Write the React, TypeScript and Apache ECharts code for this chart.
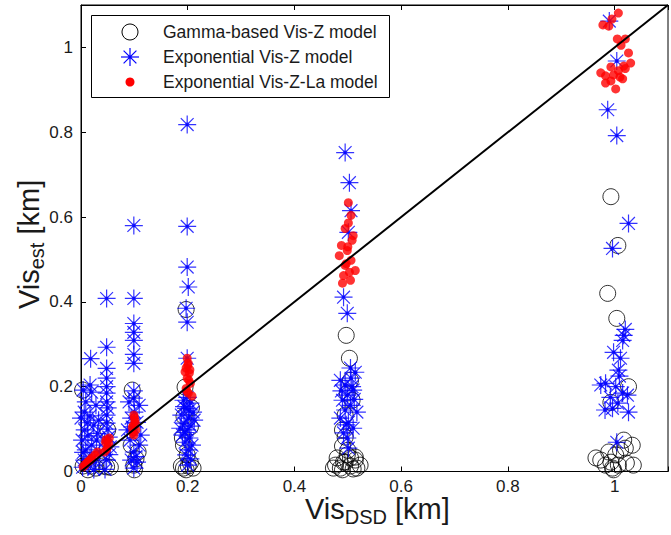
import React, { useEffect, useRef } from "react";
import * as echarts from "echarts";

// ---------- data (Vis_DSD [km], Vis_est [km]) ----------
const xTicks = [0, 0.2, 0.4, 0.6, 0.8, 1];
const yTicks = [0, 0.2, 0.4, 0.6, 0.8, 1];
const axisMax = 1.1;

const legendNames = [
  "Gamma-based Vis-Z model",
  "Exponential Vis-Z model",
  "Exponential Vis-Z-La model",
];

const gammaPoints: [number, number][] = [
  [0.004, 0.013], [0.02, 0.013], [0.013, 0.004], [0.028, 0.008], [0.003, 0.192],
  [0.048, 0.011], [0.042, 0.013], [0.055, 0.01], [0.05, 0.098],
  [0.096, 0.192], [0.099, 0.015], [0.094, 0.062], [0.107, 0.046], [0.1, 0.004], [0.103, 0.03],
  [0.197, 0.382], [0.195, 0.199], [0.205, 0.105], [0.19, 0.079], [0.199, 0.039], [0.192, 0.062],
  [0.192, 0.008], [0.201, 0.013], [0.21, 0.008], [0.197, 0.004], [0.205, 0.02], [0.188, 0.013],
  [0.207, 0.15], [0.193, 0.13],
  [0.497, 0.321], [0.503, 0.267], [0.505, 0.215], [0.499, 0.185], [0.508, 0.168], [0.495, 0.133],
  [0.49, 0.098], [0.495, 0.081], [0.514, 0.034], [0.49, 0.06],
  [0.477, 0.015], [0.486, 0.008], [0.495, 0.022], [0.505, 0.013], [0.514, 0.027], [0.523, 0.015],
  [0.48, 0.032], [0.499, 0.039], [0.51, 0.006], [0.49, 0.004], [0.517, 0.008], [0.473, 0.008],
  [0.505, 0.032], [0.492, 0.022], [0.5, 0.05],
  [0.993, 0.648], [1.006, 0.533], [0.987, 0.42], [1.004, 0.361], [1.026, 0.2], [0.993, 0.163],
  [0.974, 0.027], [0.983, 0.015], [0.993, 0.022], [1.002, 0.039], [1.011, 0.05], [1.02, 0.055],
  [1.033, 0.062], [1.007, 0.015], [0.996, 0.008], [1.022, 0.02], [0.965, 0.032], [1.035, 0.015],
  [0.989, 0.046], [1.017, 0.074], [0.998, 0.004],
];

const expPoints: [number, number][] = [
  [0.018, 0.266], [0.004, 0.192], [0.02, 0.187], [0.009, 0.164], [0.028, 0.156], [0.006, 0.14],
  [0.017, 0.131], [0.024, 0.109], [0.007, 0.098], [0.013, 0.084], [0.002, 0.074], [0.02, 0.062],
  [0.009, 0.051], [0.017, 0.036], [0.006, 0.027], [0.026, 0.022], [0.013, 0.013], [0.029, 0.074],
  [0.033, 0.121], [0.0, 0.126], [0.017, 0.204], [0.035, 0.046], [0.003, 0.01], [0.024, 0.005],
  [0.031, 0.09], [0.012, 0.115], [0.004, 0.045],
  [0.048, 0.408], [0.048, 0.293], [0.048, 0.243], [0.048, 0.22], [0.048, 0.2], [0.048, 0.185],
  [0.048, 0.164], [0.048, 0.133], [0.048, 0.114], [0.052, 0.081], [0.055, 0.058], [0.048, 0.027],
  [0.045, 0.005], [0.05, 0.1], [0.044, 0.07], [0.053, 0.04], [0.05, 0.15],
  [0.099, 0.58], [0.099, 0.408], [0.099, 0.349], [0.099, 0.328], [0.099, 0.309], [0.099, 0.276],
  [0.099, 0.255], [0.099, 0.19], [0.099, 0.173], [0.09, 0.164], [0.109, 0.156], [0.094, 0.126],
  [0.105, 0.116], [0.092, 0.074], [0.109, 0.062], [0.099, 0.046], [0.094, 0.027], [0.105, 0.022],
  [0.099, 0.008], [0.087, 0.098], [0.112, 0.086], [0.1, 0.14], [0.096, 0.105], [0.103, 0.035],
  [0.199, 0.818], [0.199, 0.578], [0.199, 0.482], [0.201, 0.435], [0.197, 0.385], [0.199, 0.352],
  [0.199, 0.267], [0.192, 0.168], [0.205, 0.161], [0.197, 0.149], [0.21, 0.14], [0.188, 0.133],
  [0.201, 0.126], [0.193, 0.114], [0.206, 0.107], [0.199, 0.098], [0.19, 0.086], [0.203, 0.079],
  [0.195, 0.069], [0.208, 0.062], [0.201, 0.051], [0.197, 0.039], [0.193, 0.153], [0.212, 0.121],
  [0.186, 0.102], [0.2, 0.015], [0.205, 0.03], [0.195, 0.092], [0.203, 0.145], [0.199, 0.175],
  [0.495, 0.752], [0.503, 0.681], [0.506, 0.615], [0.501, 0.564], [0.492, 0.411], [0.499, 0.373],
  [0.505, 0.244], [0.514, 0.234], [0.486, 0.215], [0.495, 0.204], [0.51, 0.192], [0.499, 0.18],
  [0.49, 0.168], [0.505, 0.156], [0.495, 0.145], [0.517, 0.14], [0.486, 0.126], [0.501, 0.116],
  [0.51, 0.102], [0.492, 0.091], [0.499, 0.079], [0.501, 0.055], [0.506, 0.22], [0.508, 0.2],
  [0.497, 0.11], [0.488, 0.19], [0.512, 0.17],
  [0.99, 1.062], [1.004, 0.968], [0.987, 0.853], [1.004, 0.792], [1.026, 0.585], [0.996, 0.526],
  [1.02, 0.335], [1.015, 0.309], [0.998, 0.281], [1.011, 0.267], [1.007, 0.239], [0.983, 0.208],
  [0.974, 0.204], [1.002, 0.2], [1.015, 0.185], [1.024, 0.18], [0.982, 0.145], [0.996, 0.149],
  [1.026, 0.14], [1.006, 0.161], [1.004, 0.069], [1.017, 0.321], [1.009, 0.225], [0.992, 0.175],
];

const expLaPoints: [number, number][] = [
  [0.004, 0.011], [0.009, 0.018], [0.015, 0.025], [0.02, 0.032], [0.026, 0.039], [0.031, 0.046],
  [0.007, 0.014], [0.012, 0.022], [0.018, 0.028],
  [0.046, 0.069], [0.05, 0.058], [0.044, 0.046], [0.053, 0.079], [0.048, 0.052], [0.052, 0.065],
  [0.047, 0.075],
  [0.099, 0.133], [0.101, 0.121], [0.098, 0.109], [0.103, 0.098], [0.099, 0.086], [0.096, 0.104],
  [0.1, 0.127], [0.102, 0.113], [0.097, 0.092],
  [0.199, 0.267], [0.201, 0.255], [0.197, 0.244], [0.203, 0.232], [0.199, 0.22], [0.205, 0.208],
  [0.197, 0.196], [0.201, 0.185], [0.208, 0.178], [0.195, 0.235], [0.2, 0.25], [0.202, 0.215],
  [0.198, 0.19], [0.204, 0.24],
  [0.501, 0.634], [0.506, 0.604], [0.495, 0.573], [0.51, 0.556], [0.488, 0.533], [0.499, 0.521],
  [0.484, 0.509], [0.506, 0.498], [0.495, 0.486], [0.514, 0.474], [0.492, 0.462], [0.505, 0.451],
  [0.49, 0.444], [0.508, 0.545], [0.501, 0.586], [0.497, 0.49], [0.503, 0.47], [0.5, 0.53],
  [1.007, 1.081], [0.995, 1.067], [0.978, 1.053], [0.989, 1.05], [1.005, 1.02], [1.02, 1.02],
  [1.026, 0.987], [1.017, 0.956], [0.983, 0.933], [0.993, 0.921], [1.007, 0.945], [1.02, 0.95],
  [1.002, 0.902], [0.983, 0.916], [1.015, 0.926], [0.993, 0.954], [1.03, 0.963], [0.974, 0.94],
  [1.01, 0.93], [0.998, 0.935], [1.012, 1.005],
];

const oneToOne: [number, number][] = [[0, 0], [1.1, 1.1]];

// ---------- styles ----------
const FONT = "'Liberation Sans', Arial, sans-serif";
const STAR_PATH =
  "path://M9 0 L9 18 M0 9 L18 9 M2.6 2.6 L15.4 15.4 M2.6 15.4 L15.4 2.6 M7.6 7.6 L10.4 7.6 L10.4 10.4 L7.6 10.4 Z";

const fmt = (v: number) => (v > 1.05 ? "" : String(Math.round(v * 10) / 10));

export default function App() {
  const ref = useRef<HTMLDivElement>(null);

  useEffect(() => {
    if (!ref.current) return;
    const chart = echarts.init(ref.current, null, { renderer: "svg" });

    const axisCommon = {
      type: "value" as const,
      min: 0,
      max: axisMax,
      interval: 0.2,
      splitLine: { show: false },
      axisLine: { show: true, lineStyle: { color: "#000", width: 1 } },
      axisTick: { show: true, inside: true, length: 5, lineStyle: { color: "#000" } },
    };

    const legendX = 130;
    const legendTextX = 163;
    const rows = [32, 57, 82];
    const starStroke = { stroke: "#0000ff", lineWidth: 1.2 };

    const titleRich = {
      a: { fontSize: 29, lineHeight: 20, fontFamily: FONT, fill: "#1a1a1a", verticalAlign: "top" },
      b: { fontSize: 20, lineHeight: 14, fontFamily: FONT, fill: "#1a1a1a", verticalAlign: "top", padding: [13, 0, 0, 0] },
    };

    chart.setOption({
      animation: false,
      backgroundColor: "#fff",
      grid: {
        left: 81,
        top: 5,
        right: -7,
        bottom: 63.5,
        show: true,
        borderColor: "#000",
        borderWidth: 1,
      },
      xAxis: [
        {
          ...axisCommon,
          position: "bottom",
          axisLabel: {
            formatter: fmt,
            fontSize: 17,
            lineHeight: 14,
            fontFamily: FONT,
            color: "#1a1a1a",
            margin: 8,
          },
        },
        {
          ...axisCommon,
          position: "top",
          axisLabel: { show: false },
        },
      ],
      yAxis: {
        ...axisCommon,
        axisLabel: {
          formatter: fmt,
          fontSize: 17,
          fontFamily: FONT,
          color: "#1a1a1a",
          margin: 8,
        },
      },
      series: [
        {
          name: legendNames[0],
          type: "scatter",
          data: gammaPoints,
          symbol: "circle",
          symbolSize: 16,
          itemStyle: { color: "rgba(0,0,0,0)", borderColor: "#000", borderWidth: 1 },
          z: 2,
        },
        {
          name: legendNames[1],
          type: "scatter",
          data: expPoints,
          symbol: STAR_PATH,
          symbolSize: 18,
          itemStyle: { color: "#0000ff", borderColor: "#0000ff", borderWidth: 1.2 },
          z: 3,
        },
        {
          name: legendNames[2],
          type: "scatter",
          data: expLaPoints,
          symbol: "circle",
          symbolSize: 9,
          itemStyle: { color: "#ff0000" },
          z: 4,
        },
        {
          type: "line",
          data: oneToOne,
          symbol: "none",
          lineStyle: { color: "#000", width: 2 },
          z: 5,
        },
      ],
      graphic: [
        {
          type: "rect",
          shape: { x: 91.5, y: 15.5, width: 298, height: 82 },
          style: { fill: "#fff", stroke: "#000", lineWidth: 1 },
          z: 10,
        },
        {
          type: "circle",
          shape: { cx: legendX, cy: rows[0], r: 8 },
          style: { fill: "none", stroke: "#000", lineWidth: 1 },
          z: 11,
        },
        { type: "line", z: 11, shape: { x1: legendX, y1: rows[1] - 9, x2: legendX, y2: rows[1] + 9 }, style: starStroke },
        { type: "line", z: 11, shape: { x1: legendX - 9, y1: rows[1], x2: legendX + 9, y2: rows[1] }, style: starStroke },
        { type: "line", z: 11, shape: { x1: legendX - 6.4, y1: rows[1] - 6.4, x2: legendX + 6.4, y2: rows[1] + 6.4 }, style: starStroke },
        { type: "line", z: 11, shape: { x1: legendX - 6.4, y1: rows[1] + 6.4, x2: legendX + 6.4, y2: rows[1] - 6.4 }, style: starStroke },
        { type: "rect", z: 11, shape: { x: legendX - 1.5, y: rows[1] - 1.5, width: 3, height: 3 }, style: { fill: "#0000ff" } },
        {
          type: "circle",
          shape: { cx: legendX, cy: rows[2], r: 4.5 },
          style: { fill: "#ff0000" },
          z: 11,
        },
        ...legendNames.map((name, i) => ({
          type: "text",
          x: legendTextX,
          y: rows[i],
          z: 11,
          style: {
            text: name,
            fontSize: 17.5,
            fontFamily: FONT,
            fill: "#1a1a1a",
            textAlign: "left",
            textVerticalAlign: "middle",
          },
        })),
        {
          type: "text",
          x: 305,
          y: 494,
          z: 11,
          style: {
            text: "{a|Vis}{b|DSD}{a| [km]}",
            fontFamily: FONT,
            fill: "#1a1a1a",
            textAlign: "left",
            textVerticalAlign: "top",
            rich: titleRich,
          },
        },
        {
          type: "text",
          x: 14,
          y: 309,
          rotation: Math.PI / 2,
          z: 11,
          style: {
            text: "{a|Vis}{b|est}{a| [km]}",
            fontFamily: FONT,
            fill: "#1a1a1a",
            textAlign: "left",
            textVerticalAlign: "top",
            rich: titleRich,
          },
        },
      ],
    });

    return () => chart.dispose();
  }, []);

  return (
    <div
      ref={ref}
      style={{ position: "fixed", left: 0, top: 0, width: 671, height: 535, background: "#fff" }}
    />
  );
}
